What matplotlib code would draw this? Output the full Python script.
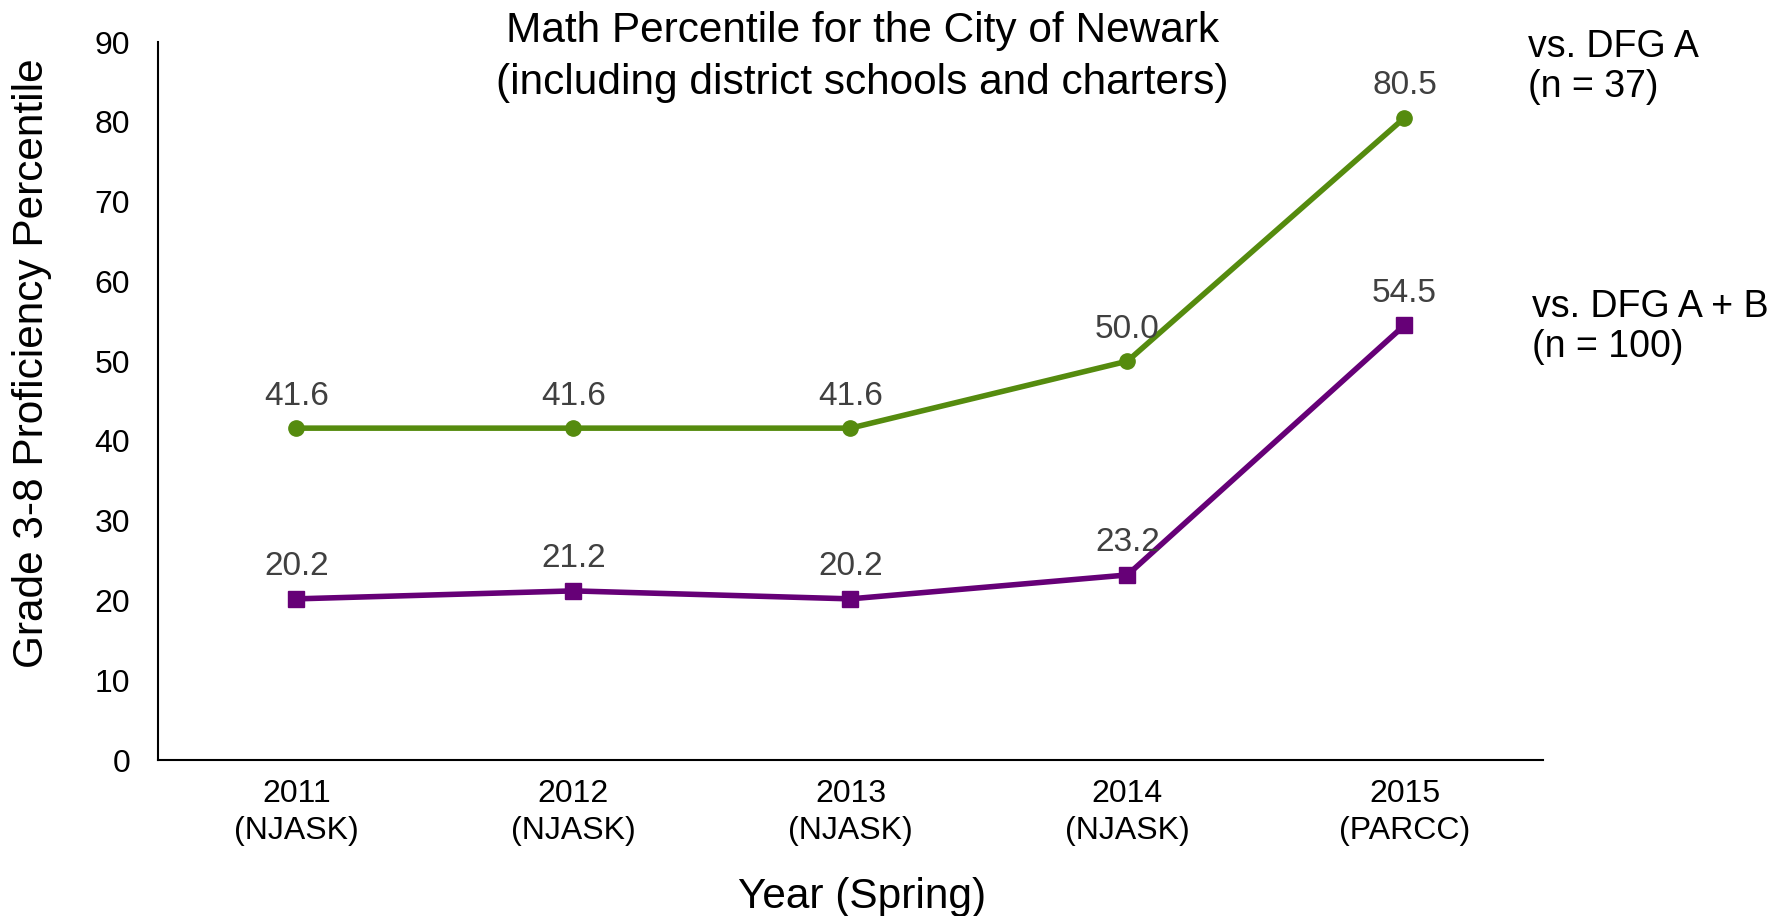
import matplotlib.pyplot as plt

years = ["2011\n(NJASK)", "2012\n(NJASK)", "2013\n(NJASK)", "2014\n(NJASK)", "2015\n(PARCC)"]
dfg_a = [41.6, 41.6, 41.6, 50.0, 80.5]
dfg_ab = [20.2, 21.2, 20.2, 23.2, 54.5]
yticks = [0, 10, 20, 30, 40, 50, 60, 70, 80, 90]

green = "#558B0E"
purple = "#660077"

plt.rcParams['font.family'] = ['Liberation Sans', 'DejaVu Sans']

fig = plt.figure(figsize=(17.85, 9.16), dpi=100)
ax = fig.add_axes([0.0885, 0.1703, 0.7759, 0.7838])

x = list(range(len(years)))
ax.plot(x, dfg_a, color=green, lw=4, marker="o", ms=11)
ax.plot(x, dfg_ab, color=purple, lw=4, marker="s", ms=11)

# data labels above each point
for ys in [dfg_a, dfg_ab]:
    for xi, yi in zip(x, ys):
        ax.annotate(f"{yi:.1f}", (xi, yi), xytext=(0, 23), textcoords="offset points",
                    ha="center", va="center", fontsize=24, color="#404040")

ax.set_xlim(-0.5, 4.5)
ax.set_ylim(0, 90)
ax.set_xticks(x)
ax.set_xticklabels(years, fontsize=23, linespacing=1.3)
ax.set_yticks(yticks)
ax.tick_params(axis="both", length=0, labelsize=23)
ax.tick_params(axis="y", pad=20)
ax.tick_params(axis="x", pad=14)

for s in ["top", "right"]:
    ax.spines[s].set_visible(False)
for s in ["left", "bottom"]:
    ax.spines[s].set_linewidth(1.5)

fig.text(0.018, 0.604, "Grade 3-8 Proficiency Percentile", rotation=90,
         ha="center", va="center", fontsize=30.5)
fig.text(0.483, 0.021, "Year (Spring)", ha="center", va="center", fontsize=30.5)

fig.text(0.483, 0.938, "Math Percentile for the City of Newark\n(including district schools and charters)",
         ha="center", va="center", fontsize=30.5, linespacing=1.38)

fig.text(0.856, 0.927, "vs. DFG A\n(n = 37)", ha="left", va="center", fontsize=27, linespacing=1.15)
fig.text(0.858, 0.643, "vs. DFG A + B\n(n = 100)", ha="left", va="center", fontsize=27, linespacing=1.15)

fig.savefig("out.png", dpi=100)
